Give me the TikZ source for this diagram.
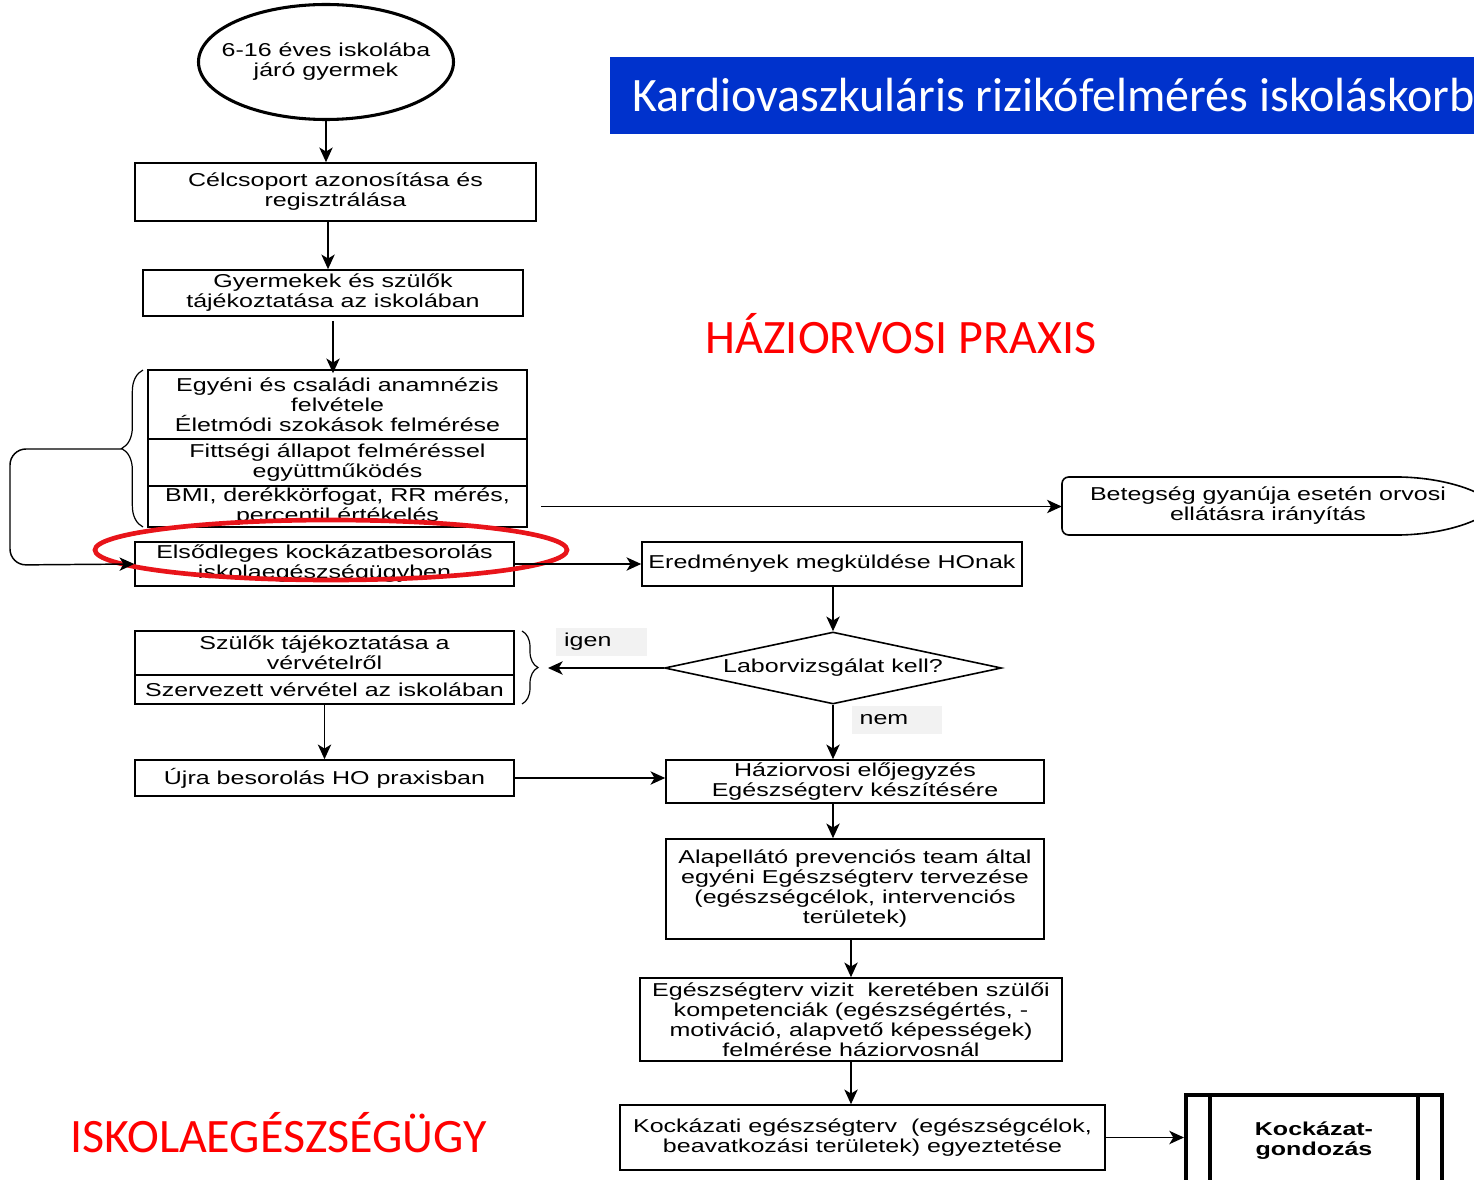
\documentclass[tikz,border=0pt]{standalone}
\usepackage{fontspec}
\setmainfont{Liberation Sans}
\newfontfamily\boxfont[FakeStretch=1.34]{Liberation Sans}
\newfontfamily\calib{Carlito}
\usetikzlibrary{arrows.meta,shapes.geometric,decorations.pathreplacing}
\definecolor{ttlblue}{RGB}{0,50,204}
\definecolor{hlred}{RGB}{232,20,26}
\definecolor{lblgray}{RGB}{242,242,242}
\begin{document}
\begin{tikzpicture}[x=0.75pt,y=-0.75pt,
  wh/.style 2 args={minimum width=#1*0.75pt, minimum height=#2*0.75pt},
  box/.style={draw, line width=1.2pt, inner sep=0pt, align=center,
    font=\boxfont\fontsize{14}{15}\selectfont},
  lbl/.style={inner sep=0pt, align=center, font=\boxfont\fontsize{14}{15}\selectfont},
  tag/.style={fill=lblgray, inner xsep=6pt, inner ysep=0pt, text width=56pt, align=left,
    minimum height=21pt, font=\boxfont\fontsize{14}{15}\selectfont},
  arr/.style={-{Stealth[length=11pt,width=10pt,inset=3pt]}, line width=1.1pt},
  brc/.style={decorate, line width=0.9pt},
  redtext/.style={text=red, inner sep=0pt, font=\calib\fontsize{36}{40}\selectfont}]
\useasboundingbox (0,0) rectangle (1474,1180);

% title banner
\fill[ttlblue] (610,57) rectangle (1480,134);
\node[anchor=base west, inner sep=0pt, text=white, font=\calib\fontsize{36}{40}\selectfont] (title) at (632,112) {Kardiovaszkuláris rizikófelmérés iskoláskorb};

% red labels
\node[redtext, anchor=base] (praxis) at (901,354) {HÁZIORVOSI PRAXIS};
\node[redtext, anchor=base] (iskola) at (278.5,1152) {ISKOLAEGÉSZSÉGÜGY};

% left column
\node[lbl, wh={255}{115}] (start) at (326,62) {6-16 éves iskolába\\járó gyermek};
\draw[line width=2.3pt] (start.center) ellipse [x radius=127.5, y radius=57.5];
\node[box, wh={401}{58}] (cel) at (335.5,192) {Célcsoport azonosítása és\\regisztrálása};
\node[box, wh={380}{46}] (gyer) at (333,293) {Gyermekek és szülők\\tájékoztatása az iskolában};
\node[box, wh={379}{69}] (s1) at (337.5,404.5) {Egyéni és családi anamnézis\\felvétele\\Életmódi szokások felmérése};
\node[box, wh={379}{47}] (s2) at (337.5,462.5) {Fittségi állapot felméréssel\\együttműködés};
\node[box, wh={379}{41}] (s3) at (337.5,506.5) {BMI, derékkörfogat, RR mérés,\\percentil értékelés};
\node[box, wh={379}{44}] (elso) at (324.5,564) {Elsődleges kockázatbesorolás\\iskolaegészségügyben};
\node[draw=hlred, line width=3.5pt, ellipse, inner sep=0pt, wh={472}{60}] (hl) at (331,550) {};
\node[box, wh={379}{44}] (sz1) at (324.5,653) {Szülők tájékoztatása a\\vérvételről};
\node[box, wh={379}{29}] (sz2) at (324.5,689.5) {Szervezett vérvétel az iskolában};
\node[box, wh={379}{36}] (ujra) at (324.5,778) {Újra besorolás HO praxisban};

% right column
\node[box, wh={380}{44}] (ered) at (832,564) {Eredmények megküldése HOnak};
\node[lbl, wh={412}{58}] (beteg) at (1268,506) {Betegség gyanúja esetén orvosi\\ellátásra irányítás};
\node[box, diamond, aspect=4.68, wh={337}{72}] (lab) at (833,668) {Laborvizsgálat kell?};
\node[tag] (igen) at (601.5,642) {igen};
\node[tag] (nem) at (897,720) {nem};
\node[box, wh={378}{43}] (hazi) at (855,781.5) {Háziorvosi előjegyzés\\Egészségterv készítésére};
\node[box, wh={378}{100}] (alap) at (855,889) {Alapellátó prevenciós team által\\egyéni Egészségterv tervezése\\(egészségcélok, intervenciós\\területek)};
\node[box, wh={422}{83}] (ege) at (851,1019.5) {Egészségterv vizit\ \ keretében szülői\\kompetenciák (egészségértés, -\\motiváció, alapvető képességek)\\felmérése háziorvosnál};
\node[box, wh={485}{65}] (kock) at (862.5,1137.5) {Kockázati egészségterv\ \ (egészségcélok,\\beavatkozási területek) egyeztetése};
\node[box, line width=3pt, wh={256}{91}, font=\boxfont\bfseries\fontsize{14}{15}\selectfont] (gond) at (1314,1140.5) {Kockázat-\\gondozás};
\draw[line width=3pt] ([xshift=19.5pt]gond.north west) -- ([xshift=19.5pt]gond.south west);
\draw[line width=3pt] ([xshift=-19.5pt]gond.north east) -- ([xshift=-19.5pt]gond.south east);

% Betegség outline
\draw[line width=1.2pt, rounded corners=5pt] (1400,535) -- (1062,535) -- (1062,477) -- (1400,477);
\draw[line width=1.2pt] (1400,477) .. controls (1450,478) and (1488,494) .. (1494,506) .. controls (1488,518) and (1450,534) .. (1400,535);

% braces
\draw[brc, decoration={brace, amplitude=16pt}] (143,527) -- (143,370);
\coordinate (bt) at (122,449);
\draw[brc, decoration={brace, amplitude=12pt}] (522,631) -- (522,704);
\coordinate (bt2) at (548,668);

% connectors
\draw[arr] (start.south) -- (start.south |- cel.north);
\draw[arr] ([xshift=-5.6pt]cel.south) -- ([xshift=-5.6pt]cel.south |- gyer.north);
\draw[arr] ([yshift=-3pt]gyer.south) -- ([yshift=-3pt]gyer.south |- s1.north);
\draw[arr, rounded corners=12pt] (bt) -- (10,449) -- (10,565) -- (elso.west);
\draw[arr] ([xshift=10pt]s3.east) -- (s3.east -| beteg.west);
\draw[arr] (elso.east) -- (ered.west);
\draw[arr] (lab.north |- ered.south) -- (lab.north);
\draw[arr] (lab.west) -- (bt2);
\draw[arr] (sz2.south) -- (ujra.north);
\draw[arr] (ujra.east) -- (ujra.east -| hazi.west);
\draw[arr] (lab.south) -- (lab.south |- hazi.north);
\draw[arr] (lab.south |- hazi.south) -- (lab.south |- alap.north);
\draw[arr] (ege.north |- alap.south) -- (ege.north);
\draw[arr] (ege.south) -- (ege.south |- kock.north);
\draw[arr] (kock.east) -- (kock.east -| gond.west);
\end{tikzpicture}
\end{document}
